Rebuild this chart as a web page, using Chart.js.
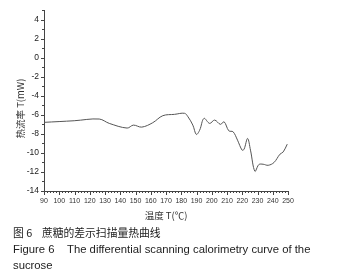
<!DOCTYPE html>
<html>
<head>
<meta charset="utf-8">
<script src="https://cdn.jsdelivr.net/npm/chart.js@4/dist/chart.umd.min.js"></script>
<style>
  body { margin: 0; background: #fff; }
  #wrap { position: relative; width: 337px; height: 280px; }
  .cap { position: absolute; left: 13px; font-family: "Liberation Sans", Arial, sans-serif; font-size: 11.3px; color: #222; white-space: nowrap; }
</style>
</head>
<body>
<div id="wrap">
  <canvas id="myChart" width="337" height="280"></canvas>
  <div class="cap" style="top:224px;font-family:'Noto Sans CJK SC',sans-serif;font-size:10.8px">图 6&nbsp;&nbsp;&nbsp;&nbsp;蔗糖的差示扫描量热曲线</div>
  <div class="cap" style="top:243px">Figure 6&nbsp;&nbsp;&nbsp;&nbsp;The differential scanning calorimetry curve of the</div>
  <div class="cap" style="top:259px">sucrose</div>
</div>
<script>
// temperature (℃) and heat flow (mW)
temps = [90, 109.8, 126.2, 132.8, 144.5, 148.6, 154.1, 161.3, 167.9, 175.6, 182.2, 184.4, 187.6, 189.9,
  192.1, 194.9, 198.6, 201.9, 205.7, 208.1, 211.2, 214.0, 216.9, 219.9, 221.2, 223.5, 225.4,
  228.3, 230.9, 233.7, 237.0, 240.8, 244.7, 246.9, 249.5];
heatFlow = [-6.79, -6.62, -6.44, -6.90, -7.39, -7.08, -7.29, -6.83, -6.09, -5.95, -5.84, -6.20, -7.08, -8.06,
  -7.60, -6.37, -6.90, -6.55, -7.00, -6.73, -7.68, -7.78, -8.66, -9.71, -9.61, -8.48, -9.71,
  -11.93, -11.22, -11.19, -11.30, -11.01, -10.14, -9.89, -9.08];
xTicks = [90, 100, 110, 120, 130, 140, 150, 160, 170, 180, 190, 200, 210, 220, 230, 240, 250];
yTicks = [-14, -12, -10, -8, -6, -4, -2, 0, 2, 4];
xTitle = '温度 T(℃)';
yTitle = '热流率 T(mW)';

points = [];
for (i = 0; i < temps.length; i++) {
  points.push({x: temps[i], y: heatFlow[i]});
}

const axisColor = '#444';

const extras = {
  id: 'extras',
  afterDraw(chart) {
    const ctx = chart.ctx;
    const xs = chart.scales.x, ys = chart.scales.y;
    ctx.save();
    ctx.strokeStyle = axisColor;
    ctx.lineWidth = 1;
    ctx.beginPath();
    // x ticks, major every 10, minor every 2
    for (let v = 90; v <= 250; v += 2) {
      const px = Math.round(xs.getPixelForValue(v)) + 0.5;
      const len = (v % 10 === 0) ? 4 : 2;
      ctx.moveTo(px, ys.bottom);
      ctx.lineTo(px, ys.bottom + len);
    }
    // y ticks, major every 2, minor every 1
    for (let v = -14; v <= 5; v += 1) {
      const py = Math.round(ys.getPixelForValue(v)) + 0.5;
      const len = (v % 2 === 0) ? 3 : 2;
      ctx.moveTo(xs.left, py);
      ctx.lineTo(xs.left - len, py);
    }
    ctx.stroke();

    ctx.fillStyle = '#333';
    ctx.font = '9.5px "Noto Sans CJK SC", sans-serif';
    ctx.textAlign = 'center';
    ctx.textBaseline = 'middle';
    ctx.fillText(xTitle, (xs.left + xs.right) / 2, 215);
    ctx.translate(20, (ys.top + ys.bottom) / 2 + 8);
    ctx.rotate(-Math.PI / 2);
    ctx.fillText(yTitle, 0, 0);
    ctx.restore();
  }
};

new Chart(document.getElementById('myChart'), {
  type: 'scatter',
  data: {
    datasets: [{
      data: points,
      showLine: true,
      borderColor: '#555',
      borderWidth: 1,
      pointRadius: 0,
      tension: 0.35
    }]
  },
  options: {
    responsive: false,
    animation: false,
    layout: { padding: { top: 10, right: 49, left: 0, bottom: 0 } },
    plugins: { legend: { display: false }, tooltip: { enabled: false } },
    scales: {
      x: {
        type: 'linear',
        min: 90, max: 250,
        afterFit: function(s) { s.height = 89; },
        afterBuildTicks: function(s) { s.ticks = xTicks.map(v => ({value: v})); },
        grid: { display: false, drawTicks: false },
        border: { display: true, color: axisColor, width: 1 },
        ticks: { padding: 6, color: '#333', font: { size: 7, family: 'Liberation Sans, Arial' }, maxRotation: 0, autoSkip: false }
      },
      y: {
        min: -14, max: 5,
        afterFit: function(s) { s.width = 44; },
        afterBuildTicks: function(s) { s.ticks = yTicks.map(v => ({value: v})); },
        grid: { display: false, drawTicks: false },
        border: { display: true, color: axisColor, width: 1 },
        ticks: { padding: 5, color: '#222', font: { size: 8.5, family: 'Liberation Sans, Arial' } }
      }
    }
  },
  plugins: [extras]
});
</script>
</body>
</html>
